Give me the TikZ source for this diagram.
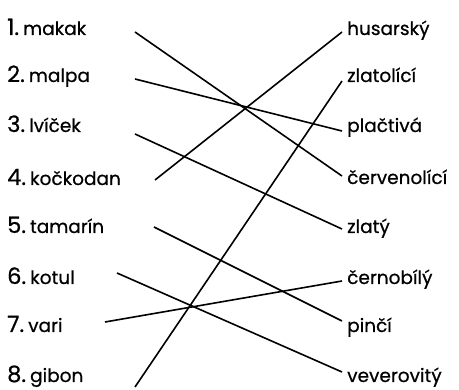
\documentclass[tikz,border=0pt]{standalone}
\usepackage{fontspec}
\setmainfont{Poppins}[FakeBold=0.6]
\usepackage{tikz}

\newcommand{\poradi}[1]{{\fontsize{22.5}{24}\selectfont #1.}\hspace{4pt}}

\begin{document}
\begin{tikzpicture}[x=1pt,y=-1pt,
	zvire/.style={anchor=base west,inner sep=0pt,font=\fontsize{18.5}{20}\selectfont},
	barva/.style={anchor=base west,inner xsep=5pt,inner ysep=0pt,font=\fontsize{18.5}{20}\selectfont},
	spoj/.style={line width=1.6pt}]
\useasboundingbox (0,0) rectangle (459,390);

	\node[zvire] (l1) at (7,35) {\poradi{1}makak};
	\node[zvire] (l2) at (7,82) {\poradi{2}malpa};
	\node[zvire] (l3) at (7,132) {\poradi{3}lvíček};
	\node[zvire] (l4) at (7,185) {\poradi{4}kočkodan};
	\node[zvire] (l5) at (7,233) {\poradi{5}tamarín};
	\node[zvire] (l6) at (7,284) {\poradi{6}kotul};
	\node[zvire] (l7) at (7,332) {\poradi{7}vari};
	\node[zvire] (l8) at (7,382) {\poradi{8}gibon};

	\node[barva] (r1) at (342,35) {husarský};
	\node[barva] (r2) at (342,82) {zlatolící};
	\node[barva] (r3) at (342,132) {plačtivá};
	\node[barva] (r4) at (342,184) {červenolící};
	\node[barva] (r5) at (342,233) {zlatý};
	\node[barva] (r6) at (342,284) {černobílý};
	\node[barva] (r7) at (342,332) {pinčí};
	\node[barva] (r8) at (342,382) {veverovitý};

	\coordinate (k1) at (135,32);
	\coordinate (k2) at (135,79);
	\coordinate (k3) at (135,134);
	\coordinate (k4) at (155,180);
	\coordinate (k5) at (154,227);
	\coordinate (k6) at (117,273);
	\coordinate (k7) at (105,322);
	\coordinate (k8) at (135,387);

	\draw[spoj] (k1) -- ([yshift=8pt]r4.base west);
	\draw[spoj] (k2) -- ([yshift=1pt]r3.base west);
	\draw[spoj] (k3) -- ([yshift=4pt]r5.base west);
	\draw[spoj] (k4) -- ([yshift=3pt]r1.base west);
	\draw[spoj] (k5) -- ([yshift=11pt]r7.base west);
	\draw[spoj] (k6) -- ([yshift=10pt]r8.base west);
	\draw[spoj] (k7) -- ([yshift=3pt]r6.base west);
	\draw[spoj] (k8) -- ([yshift=1pt]r2.base west);
\end{tikzpicture}
\end{document}
